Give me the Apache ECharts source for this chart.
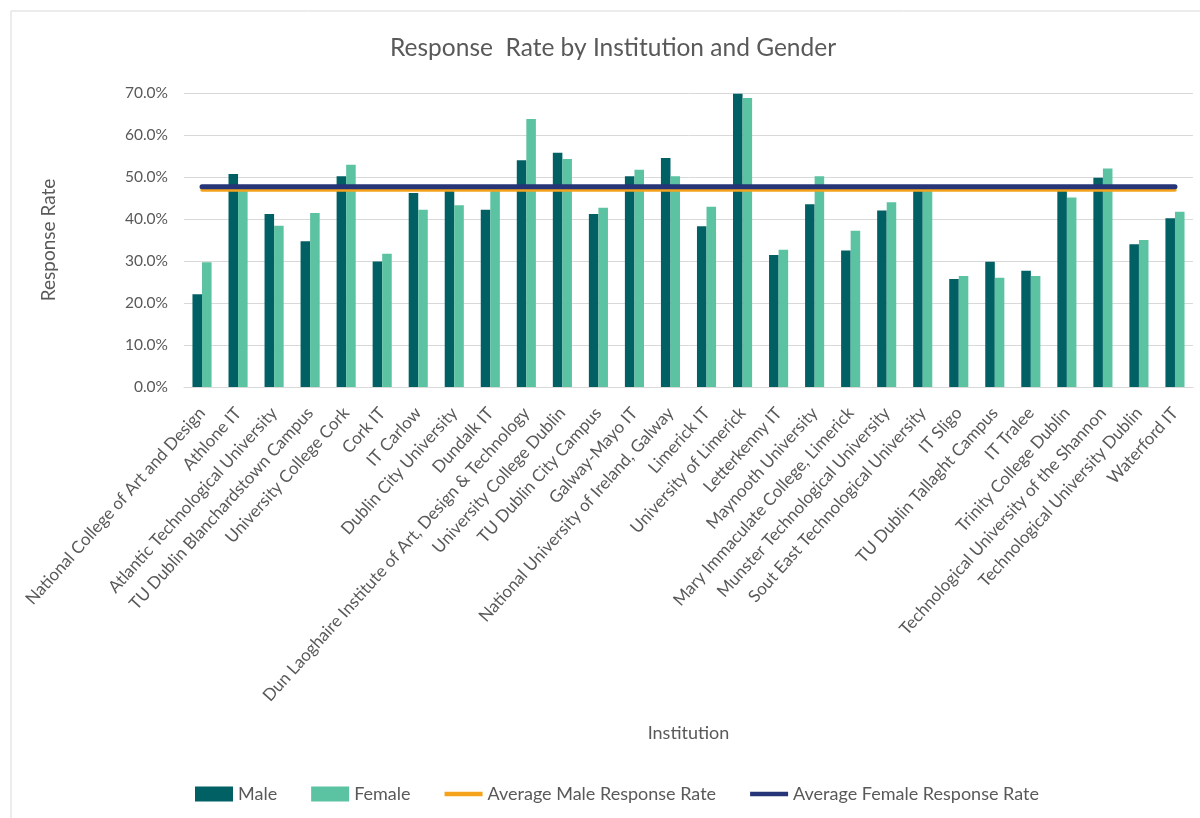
<!DOCTYPE html>
<html>
<head>
	<meta charset="utf-8"/>
	<title>Response Rate by Institution and Gender</title>
	<style type="text/css">
		html, body {
			margin: 0;
			padding: 0;
			background: #ffffff;
		}
		#chart {
			width: 1200px;
			height: 818px;
		}
	</style>
</head>
<body>
	<div id="chart"></div>

	<script src="https://cdn.jsdelivr.net/npm/echarts@6/dist/echarts.min.js"></script>
	<script type="text/javascript">

		// data (percent)
		var institutions = [
			'National College of Art and Design',
			'Athlone IT',
			'Atlantic Technological University',
			'TU Dublin Blanchardstown Campus',
			'University College Cork',
			'Cork IT',
			'IT Carlow',
			'Dublin City University',
			'Dundalk IT',
			'Dun Laoghaire Institute of Art, Design & Technology',
			'University College Dublin',
			'TU Dublin City Campus',
			'Galway-Mayo IT',
			'National University of Ireland, Galway',
			'Limerick IT',
			'University of Limerick',
			'Letterkenny IT',
			'Maynooth University',
			'Mary Immaculate College, Limerick',
			'Munster Technological University',
			'Sout East Technological University',
			'IT Sligo',
			'TU Dublin Tallaght Campus',
			'IT Tralee',
			'Trinity College Dublin',
			'Technological University of the Shannon',
			'Technological University Dublin',
			'Waterford IT'
		];

		var male = [22.1, 50.7, 41.2, 34.7, 50.2, 29.9, 46.2, 47.2, 42.2, 54.0,
			55.8, 41.2, 50.2, 54.5, 38.3, 69.8, 31.4, 43.5, 32.5, 42.0,
			47.3, 25.7, 29.8, 27.7, 47.0, 49.8, 34.0, 40.2];

		var female = [29.7, 47.5, 38.4, 41.4, 52.9, 31.7, 42.2, 43.3, 47.0, 63.8,
			54.3, 42.7, 51.7, 50.2, 42.9, 68.8, 32.7, 50.2, 37.2, 44.0,
			47.6, 26.4, 26.0, 26.4, 45.1, 52.0, 35.0, 41.7];

		var avgMale = 46.9;
		var avgFemale = 47.7;

		var yTicks = [0, 10, 20, 30, 40, 50, 60, 70];

		var avgMaleLine = institutions.map(function(){ return avgMale; });
		var avgFemaleLine = institutions.map(function(){ return avgFemale; });

		var textGrey = '#595959';
		var font = 'Lato';
		var lineIcon = 'path://M0,0 L41,0 L41,5 L0,5 Z';

		var chart = echarts.init(document.getElementById('chart'));

		var option = {
			animation: false,
			backgroundColor: '#ffffff',
			textStyle: { fontFamily: font, color: textGrey },
			graphic: [{
				type: 'rect',
				shape: { x: 11, y: 11, width: 1200, height: 820 },
				style: { fill: 'none', stroke: '#d9d9d9', lineWidth: 1 },
				silent: true
			}],
			title: {
				text: 'Response  Rate by Institution and Gender',
				left: 385,
				top: 31,
				textStyle: { fontFamily: font, fontSize: 24.5, fontWeight: 'normal', color: textGrey }
			},
			legend: {
				top: 780,
				left: 190,
				itemWidth: 38,
				itemHeight: 15,
				itemGap: 34,
				textStyle: { fontFamily: font, fontSize: 18, color: textGrey },
				data: [
					{ name: 'Male', icon: 'rect' },
					{ name: 'Female', icon: 'rect' },
					{ name: 'Average Male Response Rate', icon: lineIcon },
					{ name: 'Average Female Response Rate', icon: lineIcon }
				]
			},
			grid: {
				left: 184,
				right: 7,
				top: 93,
				bottom: 431
			},
			xAxis: {
				type: 'category',
				data: institutions,
				name: 'Institution',
				nameLocation: 'middle',
				nameGap: 337,
				nameTextStyle: { fontFamily: font, fontSize: 18, color: textGrey },
				axisLine: { lineStyle: { color: '#d9d9d9', width: 1 } },
				axisTick: { show: false },
				axisLabel: {
					interval: 0,
					rotate: 48,
					margin: 23,
					fontFamily: font,
					fontSize: 17,
					color: textGrey
				}
			},
			yAxis: {
				type: 'value',
				min: yTicks[0],
				max: yTicks[yTicks.length - 1],
				interval: 10,
				name: 'Response Rate',
				nameLocation: 'middle',
				nameGap: 126,
				nameTextStyle: { fontFamily: font, fontSize: 19, color: textGrey },
				axisLine: { show: false },
				axisTick: { show: false },
				splitLine: { lineStyle: { color: '#d9d9d9', width: 1 } },
				axisLabel: {
					margin: 16,
					fontFamily: font,
					fontSize: 15.5,
					color: textGrey,
					formatter: function(v){ return v.toFixed(1) + '%'; }
				}
			},
			series: [
				{
					name: 'Male',
					type: 'bar',
					data: male,
					barGap: '0%',
					barCategoryGap: '47%',
					itemStyle: { color: '#006064' }
				},
				{
					name: 'Female',
					type: 'bar',
					data: female,
					itemStyle: { color: '#5bc2a2' }
				},
				{
					name: 'Average Male Response Rate',
					type: 'line',
					data: avgMaleLine,
					symbol: 'none',
					itemStyle: { color: '#f5a31c' },
					lineStyle: { color: '#f5a31c', width: 3.5, cap: 'round' },
					z: 3
				},
				{
					name: 'Average Female Response Rate',
					type: 'line',
					data: avgFemaleLine,
					symbol: 'none',
					itemStyle: { color: '#263478' },
					lineStyle: { color: '#263478', width: 5, cap: 'round' },
					z: 4
				}
			]
		};

		chart.setOption(option);

	</script>
</body>
</html>
